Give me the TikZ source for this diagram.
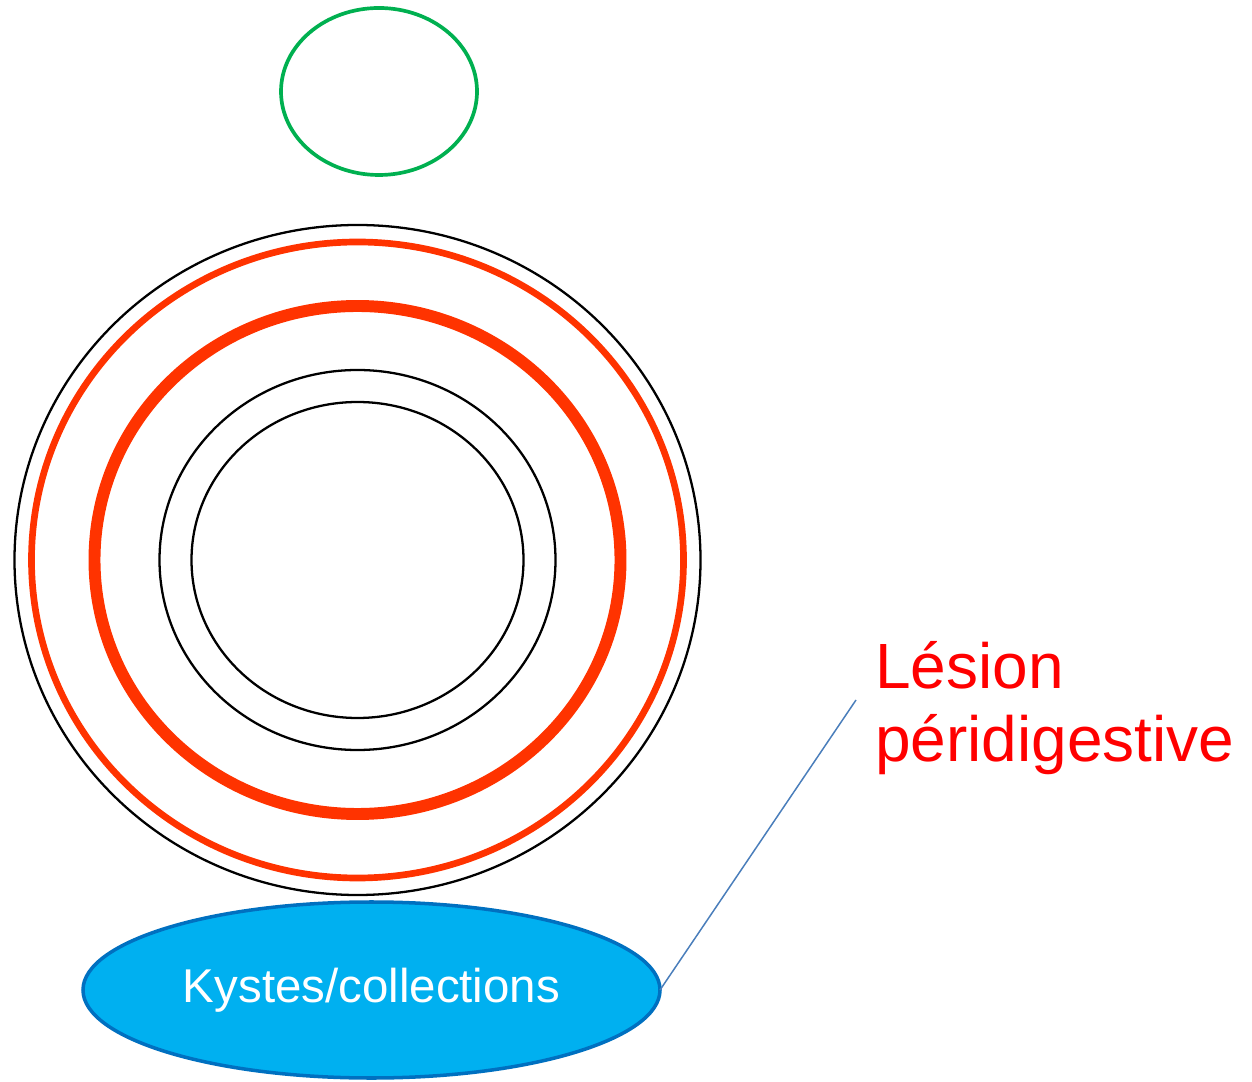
\documentclass[tikz,border=0pt]{standalone}
\usepackage{fontspec}
\setmainfont{Liberation Sans}
\usetikzlibrary{shapes.geometric, positioning}
\definecolor{ringred}{RGB}{255,51,0}
\definecolor{lesionred}{RGB}{255,0,0}
\definecolor{topgreen}{RGB}{0,176,80}
\definecolor{kystfill}{RGB}{0,176,240}
\definecolor{kystdraw}{RGB}{0,112,192}
\definecolor{leader}{RGB}{74,126,187}
\tikzset{
  ring/.style={ellipse, draw=black, line width=1.3pt,
               inner sep=0pt, outer sep=0pt},
  thinred/.style={ring, draw=ringred, line width=3.8pt},
  thickred/.style={ring, draw=ringred, line width=6.8pt},
  greenring/.style={ring, draw=topgreen, line width=2.1pt},
  kystblock/.style={ring, fill=kystfill, draw=kystdraw, line width=2pt,
                    text=white, font=\fontsize{27}{32}\selectfont},
  lesionlabel/.style={inner sep=0pt, align=left, text=lesionred,
                      font=\fontsize{36.4}{41}\selectfont},
  leaderline/.style={draw=leader, line width=0.85pt},
}

\begin{document}
\begin{tikzpicture}
  \useasboundingbox (0,0) rectangle (25.04,21.62);
  % top
  \node[greenring, minimum width=3.92cm, minimum height=3.34cm] (top) at (7.58,19.79) {};
  % rings
  \node[ring, minimum width=13.72cm, minimum height=13.40cm] (outer) at (7.15,10.42) {};
  \node[thinred, minimum width=13.04cm, minimum height=12.72cm] (serosa) at (7.15,10.42) {};
  \node[thickred, minimum width=10.52cm, minimum height=10.16cm] (muscle) at (7.15,10.42) {};
  \node[ring, minimum width=7.92cm, minimum height=7.60cm] (mucosa) at (7.15,10.42) {};
  \node[ring, minimum width=6.64cm, minimum height=6.32cm] (lumen) at (7.15,10.42) {};
  % bottom
  \node[kystblock, minimum width=11.54cm, minimum height=3.52cm] (kyst) at (7.43,1.82)
    {Kystes/collections};
  \node[lesionlabel, anchor=base west] (lesion) at (17.50,6.40)
    {Lésion\\péridigestive};
  \coordinate (tip) at (17.12,7.62);
  \draw[leaderline] (kyst.east) -- (tip);
\end{tikzpicture}
\end{document}
